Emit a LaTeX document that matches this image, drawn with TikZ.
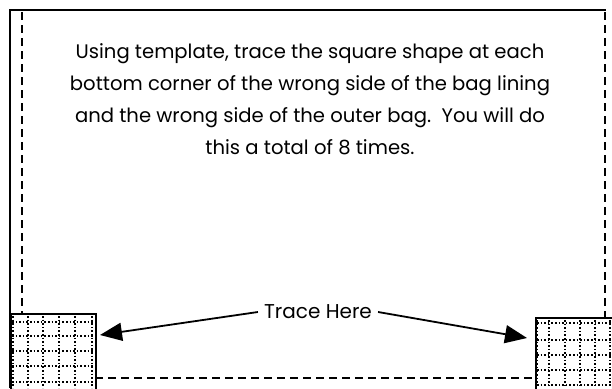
\documentclass[tikz,border=0pt]{standalone}
\usepackage{fontspec}
\setmainfont{Poppins}
\usetikzlibrary{arrows.meta}
\begin{document}
\begin{tikzpicture}[x=1pt,y=-1pt,
  frame/.style={line width=1.8pt},
  cutline/.style={line width=1.8pt,dash pattern=on 8pt off 5pt},
  gridline/.style={line width=1.6pt,dash pattern=on 1.6pt off 2pt},
  pointer/.style={line width=1.8pt,-{Triangle[length=22pt,width=18pt]}},
  txt/.style={font=\fontsize{19.6}{32}\selectfont,align=center,inner sep=0pt}]
\useasboundingbox (0,0) rectangle (612,388);
% solid frame
\draw[frame] (10,388) -- (10,10) -- (606,10);
% dashed sewing lines
\draw[cutline] (22,12) -- (22,313);
\draw[cutline] (605,12) -- (605,317);
\draw[cutline] (95,378) -- (535,378);
% left square
\node[draw,line width=1.8pt,minimum width=85pt,minimum height=80pt,inner sep=0pt,anchor=north west] (sqL) at (10,313) {};
\foreach \x in {13,28,43,59,75,92} \draw[gridline] (\x,316) -- (\x,388);
\foreach \y in {322,336,351,366,382} \draw[gridline] (12,\y) -- (94,\y);
% right square
\node[draw,line width=1.8pt,minimum width=80pt,minimum height=80pt,inner sep=0pt,anchor=north west] (sqR) at (535,317) {};
\foreach \x in {537,549,565,580,595,610} \draw[gridline] (\x,320) -- (\x,388);
\foreach \y in {323,340,355,370,385} \draw[gridline] (537,\y) -- (612,\y);
% text
\node[txt] (instr) at (310,99) {Using template, trace the square shape at each\\bottom corner of the wrong side of the bag lining\\and the wrong side of the outer bag.\ \ You will do\\this a total of 8 times.};
\node[txt,font=\fontsize{20}{24}\selectfont] (trace) at (318,312) {Trace Here};
\coordinate (tipL) at (100,335);
\coordinate (tipR) at (527,338);
\draw[pointer] ([xshift=-6pt]trace.west) -- (tipL);
\draw[pointer] ([xshift=6pt]trace.east) -- (tipR);
\end{tikzpicture}
\end{document}
